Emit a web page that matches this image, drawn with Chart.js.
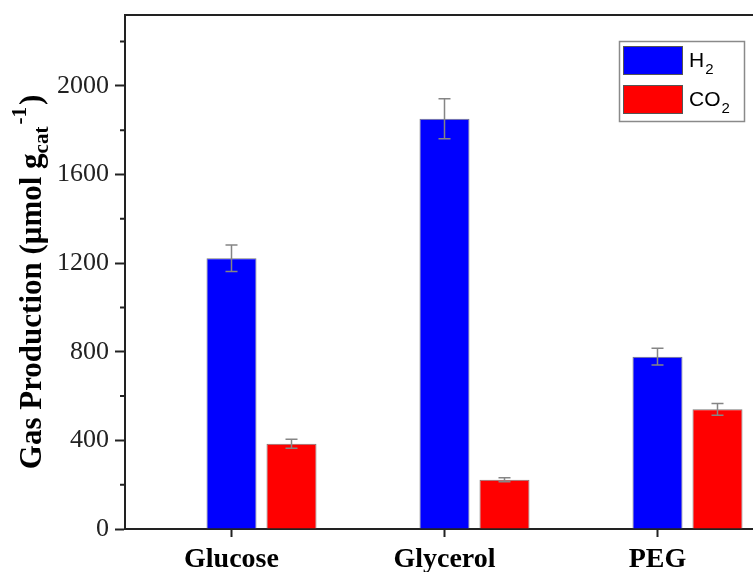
<!DOCTYPE html>
<html>
<head>
<meta charset="utf-8">
<script src="https://cdn.jsdelivr.net/npm/chart.js@4.4.1/dist/chart.umd.min.js"></script>
<style>
html,body{margin:0;padding:0;overflow:hidden;background:#fff;}
#wrap{position:relative;width:780px;height:572px;}
</style>
</head>
<body>
<div id="wrap"><canvas id="c"></canvas></div>
<script>
const categories = ['Glucose', 'Glycerol', 'PEG'];
const h2Values = [1222, 1852, 778];
const h2Errors = [60, 90, 38];
const co2Values = [385, 222, 540];
const co2Errors = [20, 9, 27];
const yMajorTicks = [0, 400, 800, 1200, 1600, 2000];
const yMinorTicks = [200, 600, 1000, 1400, 1800, 2200];

const errorBars = {
  id: 'errorBars',
  afterDatasetsDraw(chart) {
    const ctx = chart.ctx, y = chart.scales.y;
    chart.data.datasets.forEach((ds, i) => {
      if (!ds.errors) return;
      const meta = chart.getDatasetMeta(i);
      meta.data.forEach((bar, j) => {
        const v = ds.data[j], e = ds.errors[j];
        if (v == null) return;
        const x = bar.x, yt = y.getPixelForValue(v + e), yb = y.getPixelForValue(v - e);
        ctx.save();
        ctx.strokeStyle = '#858585';
        ctx.lineWidth = 1.5;
        ctx.beginPath();
        ctx.moveTo(x, yt); ctx.lineTo(x, yb);
        ctx.moveTo(x - 6, yt); ctx.lineTo(x + 6, yt);
        ctx.moveTo(x - 6, yb); ctx.lineTo(x + 6, yb);
        ctx.stroke();
        ctx.restore();
      });
    });
  }
};

const frame = {
  id: 'frame',
  afterDraw(chart) {
    const ctx = chart.ctx, a = chart.chartArea, y = chart.scales.y;
    ctx.save();
    ctx.strokeStyle = '#222';
    ctx.lineWidth = 2;
    ctx.beginPath();
    ctx.moveTo(a.left - 1, a.top);
    ctx.lineTo(a.right, a.top);
    ctx.lineTo(a.right, a.bottom);
    ctx.stroke();
    ctx.beginPath();
    yMinorTicks.forEach(v => {
      const py = y.getPixelForValue(v);
      ctx.moveTo(a.left - 5, py);
      ctx.lineTo(a.left, py);
    });
    ctx.stroke();
    ctx.restore();
  }
};

const yTitle = {
  id: 'yTitle',
  afterDraw(chart) {
    const ctx = chart.ctx;
    const big = 'bold 31px "Liberation Serif"';
    const small = 'bold 21px "Liberation Serif"';
    const parts = [
      {t: 'Gas Production (\u03BCmol g', f: big, dy: 0},
      {t: 'cat', f: small, dy: 7},
      {t: '-1', f: small, dy: -15, dx: 2},
      {t: ')', f: big, dy: 0, dx: 2}
    ];
    let total = 0;
    parts.forEach(p => { ctx.font = p.f; p.w = ctx.measureText(p.t).width; total += p.w + (p.dx || 0); });
    ctx.save();
    ctx.translate(41, 282);
    ctx.rotate(-Math.PI / 2);
    ctx.fillStyle = '#000';
    ctx.textBaseline = 'alphabetic';
    let x = -total / 2;
    parts.forEach(p => {
      x += (p.dx || 0);
      ctx.font = p.f;
      ctx.fillText(p.t, x, p.dy);
      x += p.w;
    });
    ctx.restore();
  }
};

const legendBox = {
  id: 'legendBox',
  afterDraw(chart) {
    const ctx = chart.ctx;
    const items = [
      {ds: chart.data.datasets[1], base: 'H', y: 46},
      {ds: chart.data.datasets[2], base: 'CO', y: 85}
    ];
    ctx.save();
    ctx.strokeStyle = '#8a8a8a';
    ctx.lineWidth = 1.5;
    ctx.strokeRect(619.5, 41.5, 125, 80);
    items.forEach(it => {
      ctx.fillStyle = it.ds.backgroundColor;
      ctx.fillRect(623.5, it.y, 59, 28);
      ctx.strokeStyle = '#555';
      ctx.lineWidth = 1;
      ctx.strokeRect(623.5, it.y + 0.5, 59, 28);
      ctx.fillStyle = '#000';
      ctx.font = '21px "Liberation Sans"';
      ctx.textBaseline = 'alphabetic';
      ctx.fillText(it.base, 689, it.y + 21);
      const w = ctx.measureText(it.base).width;
      ctx.font = '15px "Liberation Sans"';
      ctx.fillText('2', 689 + w + 1, it.y + 28);
    });
    ctx.restore();
  }
};

new Chart(document.getElementById('c'), {
  type: 'bar',
  data: {
    labels: categories,
    datasets: [
      {label: '', data: categories.map(() => null), backgroundColor: 'rgba(0,0,0,0)'},
      {label: 'H2', data: h2Values, errors: h2Errors, backgroundColor: '#0000ff', borderColor: '#7a7a7a', borderWidth: 1},
      {label: 'CO2', data: co2Values, errors: co2Errors, backgroundColor: '#ff0000', borderColor: '#7a7a7a', borderWidth: 1}
    ]
  },
  options: {
    responsive: true,
    maintainAspectRatio: false,
    animation: false,
    devicePixelRatio: 1,
    datasets: {bar: {categoryPercentage: 180 / 213, barPercentage: 50 / 60}},
    layout: {padding: {top: 15, right: 16, left: 0, bottom: 0}},
    plugins: {legend: {display: false}, tooltip: {enabled: false}},
    scales: {
      x: {
        grid: {offset: false, drawOnChartArea: false, drawTicks: true, tickLength: 8, tickColor: '#222', tickWidth: 2},
        border: {display: true, color: '#222', width: 2},
        ticks: {color: '#000', font: {family: 'Liberation Serif', size: 28, weight: 'bold'}, padding: 6},
        afterFit(s) { s.height = 43; s.paddingLeft = 0; s.paddingRight = 0; }
      },
      y: {
        min: 0,
        max: 2320,
        afterBuildTicks(s) { s.ticks = yMajorTicks.map(v => ({value: v})); },
        grid: {drawOnChartArea: false, drawTicks: true, tickLength: 10, tickColor: '#222', tickWidth: 2},
        border: {display: true, color: '#222', width: 2},
        ticks: {color: '#222', font: {family: 'Liberation Serif', size: 26}, padding: 6, callback: v => String(v)},
        afterFit(s) { s.width = 125; s.paddingTop = 0; s.paddingBottom = 0; }
      }
    }
  },
  plugins: [errorBars, frame, yTitle, legendBox]
});
</script>
</body>
</html>
